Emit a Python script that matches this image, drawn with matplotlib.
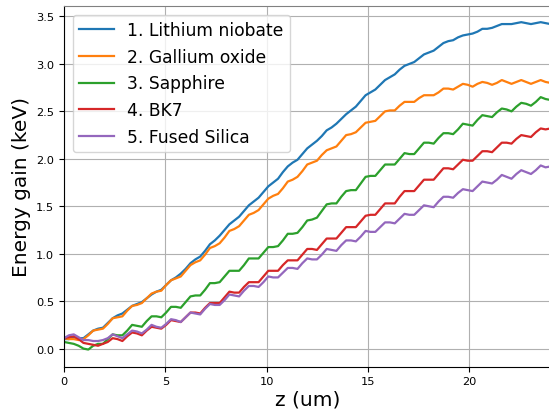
import numpy as np
import matplotlib

matplotlib.use("Agg")
import matplotlib.pyplot as plt

# sample positions along z (um), 0.24 um apart
z = np.linspace(0, 24, 101)

lithium_niobate = [
    0.10, 0.10, 0.12, 0.11, 0.11, 0.15, 0.19, 0.21, 0.22, 0.27,
    0.32, 0.35, 0.37, 0.41, 0.45, 0.47, 0.49, 0.53, 0.57, 0.60,
    0.62, 0.67, 0.72, 0.75, 0.79, 0.84, 0.90, 0.94, 0.97, 1.03,
    1.10, 1.14, 1.19, 1.25, 1.31, 1.35, 1.39, 1.45, 1.51, 1.55,
    1.59, 1.65, 1.71, 1.75, 1.79, 1.86, 1.92, 1.96, 1.99, 2.05,
    2.11, 2.15, 2.19, 2.24, 2.30, 2.33, 2.37, 2.42, 2.47, 2.51,
    2.55, 2.61, 2.67, 2.70, 2.73, 2.78, 2.83, 2.86, 2.89, 2.94,
    2.98, 3.00, 3.02, 3.06, 3.10, 3.12, 3.14, 3.18, 3.22, 3.24,
    3.25, 3.28, 3.30, 3.31, 3.32, 3.34, 3.37, 3.37, 3.38, 3.40,
    3.42, 3.42, 3.42, 3.43, 3.44, 3.43, 3.42, 3.43, 3.44, 3.43,
    3.42,
]
gallium_oxide = [
    0.11, 0.10, 0.10, 0.09, 0.10, 0.14, 0.19, 0.20, 0.21, 0.26,
    0.32, 0.33, 0.34, 0.40, 0.45, 0.46, 0.48, 0.53, 0.58, 0.60,
    0.61, 0.67, 0.72, 0.74, 0.76, 0.82, 0.88, 0.91, 0.93, 0.99,
    1.06, 1.08, 1.11, 1.17, 1.24, 1.26, 1.29, 1.35, 1.41, 1.43,
    1.46, 1.52, 1.58, 1.61, 1.63, 1.69, 1.76, 1.78, 1.81, 1.87,
    1.94, 1.96, 1.98, 2.04, 2.09, 2.11, 2.13, 2.19, 2.25, 2.26,
    2.28, 2.33, 2.38, 2.39, 2.40, 2.45, 2.50, 2.51, 2.51, 2.56,
    2.60, 2.60, 2.60, 2.64, 2.67, 2.67, 2.67, 2.70, 2.74, 2.74,
    2.73, 2.76, 2.79, 2.78, 2.76, 2.79, 2.81, 2.80, 2.78, 2.80,
    2.83, 2.81, 2.79, 2.81, 2.83, 2.81, 2.79, 2.81, 2.83, 2.81,
    2.80,
]
sapphire = [
    0.07, 0.06, 0.05, 0.03, 0.00, -0.01, 0.03, 0.05, 0.05, 0.10,
    0.15, 0.14, 0.14, 0.19, 0.25, 0.24, 0.23, 0.29, 0.34, 0.34,
    0.33, 0.38, 0.44, 0.44, 0.43, 0.49, 0.55, 0.56, 0.56, 0.62,
    0.69, 0.69, 0.70, 0.76, 0.82, 0.82, 0.82, 0.88, 0.95, 0.95,
    0.95, 1.01, 1.07, 1.07, 1.08, 1.14, 1.21, 1.21, 1.22, 1.28,
    1.35, 1.36, 1.38, 1.45, 1.52, 1.53, 1.53, 1.60, 1.66, 1.67,
    1.67, 1.74, 1.81, 1.82, 1.82, 1.88, 1.94, 1.94, 1.94, 2.00,
    2.06, 2.05, 2.05, 2.11, 2.17, 2.17, 2.16, 2.22, 2.27, 2.27,
    2.26, 2.31, 2.37, 2.36, 2.35, 2.41, 2.46, 2.45, 2.44, 2.49,
    2.53, 2.52, 2.50, 2.55, 2.59, 2.58, 2.56, 2.60, 2.65, 2.63,
    2.62,
]
bk7 = [
    0.11, 0.12, 0.13, 0.10, 0.06, 0.05, 0.04, 0.03, 0.05, 0.07,
    0.11, 0.10, 0.08, 0.13, 0.17, 0.16, 0.14, 0.19, 0.23, 0.22,
    0.21, 0.25, 0.30, 0.29, 0.28, 0.33, 0.38, 0.38, 0.37, 0.43,
    0.48, 0.48, 0.48, 0.54, 0.60, 0.59, 0.59, 0.65, 0.70, 0.70,
    0.70, 0.76, 0.82, 0.82, 0.82, 0.88, 0.93, 0.93, 0.93, 0.99,
    1.05, 1.05, 1.04, 1.10, 1.16, 1.16, 1.16, 1.22, 1.28, 1.28,
    1.28, 1.34, 1.40, 1.41, 1.41, 1.47, 1.53, 1.53, 1.53, 1.60,
    1.66, 1.66, 1.66, 1.72, 1.78, 1.78, 1.78, 1.84, 1.90, 1.90,
    1.89, 1.94, 1.99, 1.98, 1.98, 2.03, 2.08, 2.08, 2.07, 2.12,
    2.17, 2.17, 2.16, 2.21, 2.25, 2.24, 2.23, 2.28, 2.32, 2.31,
    2.32,
]
fused_silica = [
    0.11, 0.14, 0.15, 0.12, 0.09, 0.09, 0.08, 0.08, 0.09, 0.11,
    0.15, 0.13, 0.11, 0.15, 0.19, 0.18, 0.16, 0.20, 0.25, 0.23,
    0.22, 0.26, 0.31, 0.30, 0.28, 0.33, 0.38, 0.37, 0.36, 0.42,
    0.47, 0.46, 0.46, 0.51, 0.57, 0.56, 0.55, 0.61, 0.66, 0.66,
    0.65, 0.70, 0.76, 0.75, 0.75, 0.80, 0.85, 0.85, 0.84, 0.90,
    0.95, 0.94, 0.94, 0.99, 1.05, 1.04, 1.03, 1.09, 1.14, 1.14,
    1.13, 1.18, 1.24, 1.23, 1.23, 1.28, 1.33, 1.33, 1.32, 1.37,
    1.42, 1.41, 1.41, 1.46, 1.51, 1.50, 1.49, 1.55, 1.60, 1.60,
    1.59, 1.64, 1.68, 1.67, 1.66, 1.71, 1.76, 1.75, 1.74, 1.78,
    1.83, 1.81, 1.79, 1.84, 1.88, 1.86, 1.84, 1.88, 1.93, 1.91,
    1.92,
]

series = [
    ("1. Lithium niobate", lithium_niobate),
    ("2. Gallium oxide", gallium_oxide),
    ("3. Sapphire", sapphire),
    ("4. BK7", bk7),
    ("5. Fused Silica", fused_silica),
]

fig = plt.figure(figsize=(5.49, 4.14), dpi=100)
ax = fig.add_axes([0.1166, 0.112, 0.886, 0.871])

for label, vals in series:
    ax.plot(z, vals, lw=1.6, label=label)

ax.set_xlim(0, 24)
ax.set_ylim(-0.19, 3.61)
ax.set_xticks([0, 5, 10, 15, 20])
ax.set_yticks([0.0, 0.5, 1.0, 1.5, 2.0, 2.5, 3.0, 3.5])
ax.grid(True)
ax.tick_params(labelsize=8.2)
ax.spines["right"].set_visible(False)
ax.spines["top"].set_color("#808080")

ax.set_xlabel("z (um)", fontsize=14.5, labelpad=2)
ax.set_ylabel("Energy gain (keV)", fontsize=14.5)
ax.legend(loc="upper left", fontsize=12.3)

fig.savefig("out.png", dpi=100)
